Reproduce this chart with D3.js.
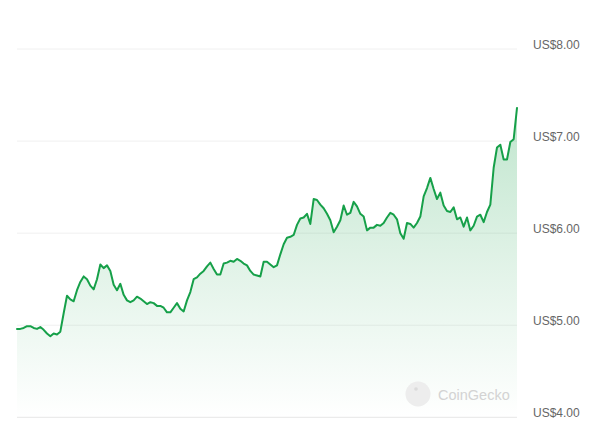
<!DOCTYPE html>
<html>
<head>
<meta charset="utf-8">
<script src="https://cdn.jsdelivr.net/npm/d3@7"></script>
<style>
  html, body { margin: 0; padding: 0; background: #fff; }
  svg { display: block; }
</style>
</head>
<body>
<svg id="chart" width="600" height="428"></svg>
<script>
// ---- data ----
const prices = [
  4.96, 4.96, 4.97, 4.99, 4.99, 4.97, 4.96, 4.98, 4.95, 4.91,
  4.88, 4.91, 4.90, 4.93, 5.13, 5.32, 5.28, 5.26, 5.38, 5.47,
  5.53, 5.50, 5.43, 5.39, 5.50, 5.66, 5.62, 5.65, 5.59, 5.44,
  5.38, 5.45, 5.33, 5.27, 5.25, 5.27, 5.31, 5.29, 5.26, 5.23,
  5.25, 5.24, 5.21, 5.21, 5.19, 5.14, 5.14, 5.19, 5.24, 5.18,
  5.15, 5.27, 5.36, 5.50, 5.52, 5.56, 5.59, 5.64, 5.68, 5.61,
  5.55, 5.55, 5.67, 5.68, 5.70, 5.69, 5.72, 5.70, 5.67, 5.65,
  5.59, 5.55, 5.54, 5.53, 5.69, 5.69, 5.66, 5.63, 5.65, 5.77,
  5.88, 5.95, 5.96, 5.98, 6.09, 6.16, 6.17, 6.21, 6.10, 6.37,
  6.36, 6.31, 6.27, 6.21, 6.14, 6.01, 6.07, 6.14, 6.30, 6.20,
  6.22, 6.34, 6.29, 6.21, 6.18, 6.03, 6.06, 6.06, 6.09, 6.08,
  6.11, 6.17, 6.22, 6.20, 6.15, 6.00, 5.94, 6.11, 6.10, 6.06,
  6.11, 6.18, 6.40, 6.49, 6.60, 6.48, 6.37, 6.44, 6.30, 6.24,
  6.23, 6.28, 6.15, 6.17, 6.07, 6.17, 6.03, 6.08, 6.18, 6.20,
  6.12, 6.23, 6.31, 6.71, 6.93, 6.96, 6.80, 6.80, 6.99, 7.02,
  7.36
];
const yTicks = [4, 5, 6, 7, 8];
const tickLabels = ["US$4.00", "US$5.00", "US$6.00", "US$7.00", "US$8.00"];
const watermark = "CoinGecko";

// ---- layout ----
const svg = d3.select("#chart");
const plotLeft = 17, plotRight = 517, plotTop = 49, plotBottom = 417.3;

const x = d3.scaleLinear().domain([0, prices.length - 1]).range([plotLeft, plotRight]);
const y = d3.scaleLinear().domain([4, 8]).range([plotBottom, plotTop]);

const defs = svg.append("defs");
const grad = defs.append("linearGradient")
  .attr("id", "areaGrad")
  .attr("gradientUnits", "userSpaceOnUse")
  .attr("x1", 0).attr("x2", 0)
  .attr("y1", y(7.4)).attr("y2", y(4));
grad.append("stop").attr("offset", "0%").attr("stop-color", "#1aa24b").attr("stop-opacity", 0.28);
grad.append("stop").attr("offset", "55%").attr("stop-color", "#1aa24b").attr("stop-opacity", 0.12);
grad.append("stop").attr("offset", "100%").attr("stop-color", "#1aa24b").attr("stop-opacity", 0.0);

// gridlines
svg.append("g").selectAll("line")
  .data(yTicks)
  .join("line")
  .attr("x1", plotLeft).attr("x2", plotRight)
  .attr("y1", d => y(d)).attr("y2", d => y(d))
  .attr("stroke", d => d === 4 ? "#e6e6e6" : "#f0f0f0")
  .attr("stroke-width", 1);

// area
const area = d3.area()
  .x((d, i) => x(i))
  .y0(y(4))
  .y1(d => y(d));
svg.append("path")
  .datum(prices)
  .attr("d", area)
  .attr("fill", "url(#areaGrad)");

// watermark
const wm = svg.append("g").attr("opacity", 0.9);
wm.append("circle").attr("cx", 418).attr("cy", 394).attr("r", 12.5)
  .attr("fill", "#ececec");
wm.append("circle").attr("cx", 416).attr("cy", 389).attr("r", 1.8)
  .attr("fill", "#d8d8d8");
wm.append("text").attr("x", 438).attr("y", 399.5)
  .attr("font-family", "Liberation Sans, Arial, sans-serif")
  .attr("font-size", 14.5)
  .attr("fill", "#cfcfcf")
  .text(watermark);

// line
const line = d3.line()
  .x((d, i) => x(i))
  .y(d => y(d));
svg.append("path")
  .datum(prices)
  .attr("d", line)
  .attr("fill", "none")
  .attr("stroke", "#16a049")
  .attr("stroke-width", 2)
  .attr("stroke-linejoin", "round")
  .attr("stroke-linecap", "round");

// axis labels on the right
svg.append("g").selectAll("text")
  .data(yTicks)
  .join("text")
  .attr("x", 533)
  .attr("y", d => y(d) - 0.5)
  .attr("font-family", "Liberation Sans, Arial, sans-serif")
  .attr("font-size", 12)
  .attr("fill", "#666")
  .text((d, i) => tickLabels[i]);
</script>
</body>
</html>
